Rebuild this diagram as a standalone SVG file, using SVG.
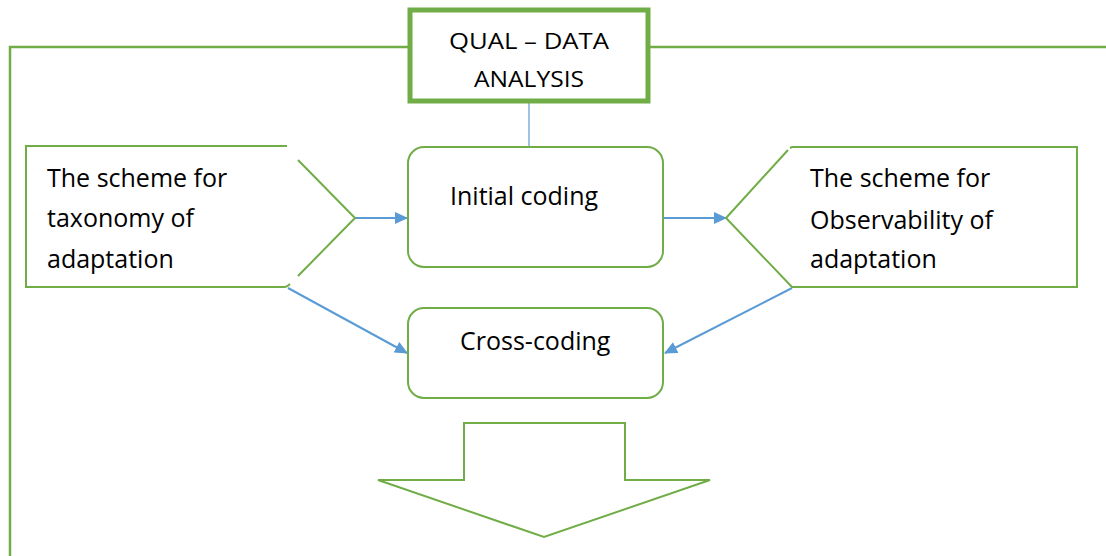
<svg xmlns="http://www.w3.org/2000/svg" width="1106" height="556" viewBox="0 0 1106 556">
<defs>
<style>
.g{fill:none;stroke:#70AD47;stroke-width:2}
.b{fill:none;stroke:#5B9BD5;stroke-width:2}
.t{font-family:"Open Sans","Noto Sans",sans-serif;font-size:25px;fill:#000}
</style>
<marker id="ah" markerWidth="13" markerHeight="12" refX="12" refY="6" orient="auto" markerUnits="userSpaceOnUse" viewBox="0 0 13 12">
<path d="M0,0 L13,6 L0,12 Z" fill="#5B9BD5"/>
</marker>
</defs>
<rect width="1106" height="556" fill="#fff"/>
<g id="frame">
<path d="M10,556 V47 H410 M648,47 H1106" fill="none" stroke="#70AD47" stroke-width="2.5"/>
</g>
<g id="connectors">
<line x1="529" y1="103" x2="529" y2="147" stroke="#5B9BD5" stroke-width="1.2"/>
<line class="b" x1="355" y1="218" x2="407" y2="218" marker-end="url(#ah)"/>
<line class="b" x1="663" y1="218" x2="726" y2="218" marker-end="url(#ah)"/>
<line class="b" x1="288" y1="288" x2="407" y2="353" marker-end="url(#ah)"/>
<line class="b" x1="792" y1="288" x2="665" y2="353" marker-end="url(#ah)"/>
</g>
<g id="qual">
<rect x="410" y="10" width="238" height="91" fill="#fff" stroke="#70AD47" stroke-width="5"/>
<text class="t" x="529" y="49" text-anchor="middle" style="font-size:22px" textLength="160" lengthAdjust="spacingAndGlyphs">QUAL – DATA</text>
<text class="t" x="529" y="87" text-anchor="middle" style="font-size:22px" textLength="110" lengthAdjust="spacingAndGlyphs">ANALYSIS</text>
</g>
<g id="left-scheme">
<path class="g" d="M287,146 H26 V287 H285 Q287,287 290,284"/>
<path class="g" d="M298,160 L355,218 L298,276"/>
<text class="t" x="47" y="187">The scheme for</text>
<text class="t" x="47" y="227">taxonomy of</text>
<text class="t" x="47" y="268">adaptation</text>
</g>
<g id="initial-coding">
<rect class="g" x="408" y="147" width="255" height="120" rx="16"/>
<text class="t" x="450" y="205">Initial coding</text>
</g>
<g id="right-scheme">
<path class="g" d="M790,148 L792,147 H1077 V287 H792 L726,218 L788,150"/>
<text class="t" x="810" y="187">The scheme for</text>
<text class="t" x="810" y="229">Observability of</text>
<text class="t" x="810" y="268">adaptation</text>
</g>
<g id="cross-coding">
<rect class="g" x="408" y="308" width="255" height="90" rx="16"/>
<text class="t" x="460" y="350">Cross-coding</text>
</g>
<g id="down-arrow">
<path class="g" d="M464,480 V423 H625 V480 H710 L544,537 L378,480 Z"/>
</g>
</svg>
